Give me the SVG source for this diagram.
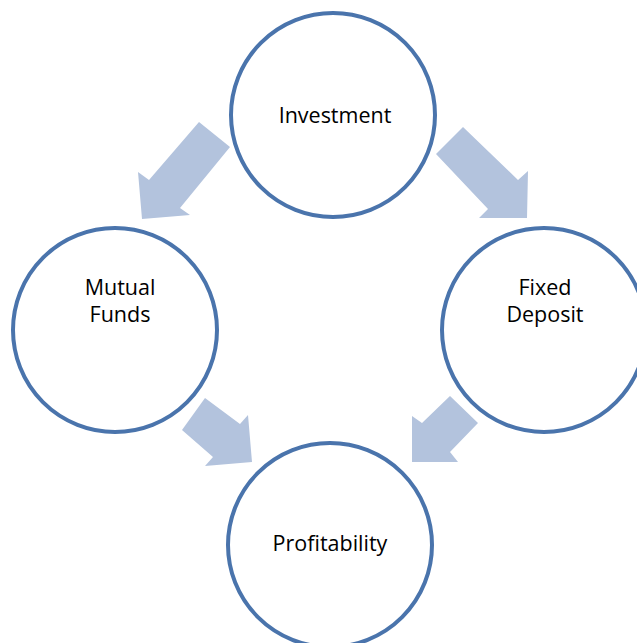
<svg xmlns="http://www.w3.org/2000/svg" width="637" height="643" viewBox="0 0 637 643">
<style>
.node{fill:#ffffff;stroke:#4A74AC;stroke-width:4}
.arrow{fill:#B3C3DD;stroke:none}
.lbl{font-family:"Open Sans","Noto Sans","Liberation Sans",sans-serif;font-size:21.5px;fill:#000;text-anchor:middle}
</style>
<rect width="637" height="643" fill="#ffffff"/>
<g id="connectors">
<polygon class="arrow" points="199,122 230,147 180,208 190,215 142,219 138,172 149,180"/>
<polygon class="arrow" points="463,127 518,180 528,171 527,218 479,218 488,209 436,154"/>
<polygon class="arrow" points="205,398 240,424 248,415 252,462 205,466 213,457 182,430"/>
<polygon class="arrow" points="450,396 478,423 450,452 458,462 412,462 412,416 422,423"/>
</g>
<g id="investment">
<circle class="node" cx="333" cy="115" r="102"/>
<text class="lbl" x="335" y="123">Investment</text>
</g>
<g id="mutual-funds">
<circle class="node" cx="115" cy="330" r="102"/>
<text class="lbl" x="120" y="295">Mutual</text>
<text class="lbl" x="120" y="322">Funds</text>
</g>
<g id="fixed-deposit">
<circle class="node" cx="544" cy="330" r="102"/>
<text class="lbl" x="545" y="295">Fixed</text>
<text class="lbl" x="545" y="322">Deposit</text>
</g>
<g id="profitability">
<circle class="node" cx="330" cy="545" r="102"/>
<text class="lbl" x="330" y="551">Profitability</text>
</g>
</svg>
